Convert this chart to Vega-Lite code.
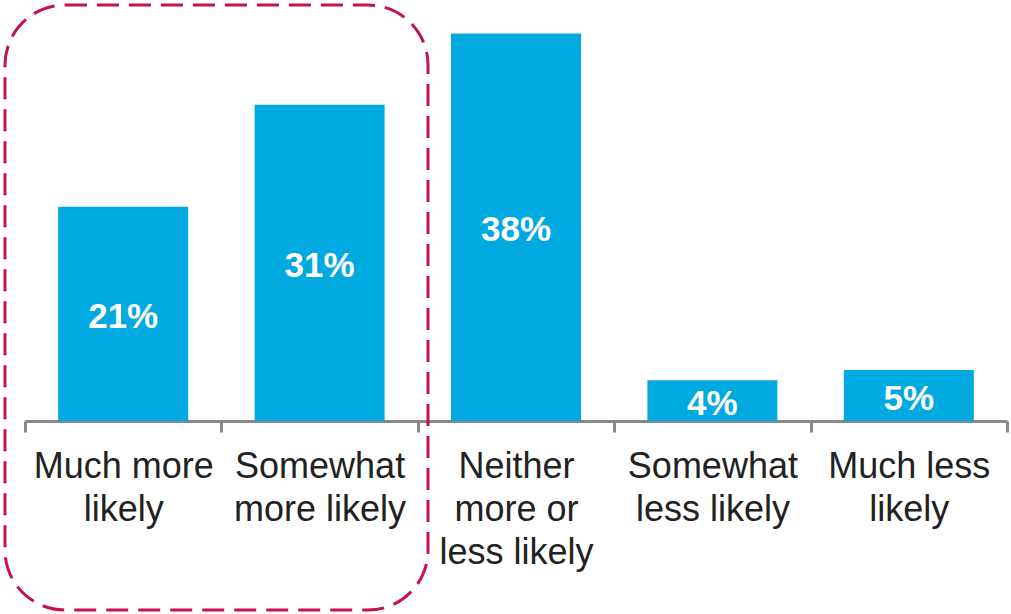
{
  "$schema": "https://vega.github.io/schema/vega-lite/v6.json",
  "autosize": "none",
  "width": 982,
  "height": 408,
  "padding": {"left": 25, "top": 13, "right": 4, "bottom": 193},
  "background": "white",
  "config": {"view": {"stroke": null}, "font": "Liberation Sans"},
  "layer": [
    {
      "data": {"values": [
        {"category": "Much more likely", "pct": 21, "label": "21%"},
        {"category": "Somewhat more likely", "pct": 31, "label": "31%"},
        {"category": "Neither more or less likely", "pct": 38, "label": "38%"},
        {"category": "Somewhat less likely", "pct": 4, "label": "4%"},
        {"category": "Much less likely", "pct": 5, "label": "5%"}
      ]},
      "encoding": {
        "x": {
          "field": "category", "type": "nominal", "sort": null,
          "scale": {"paddingInner": 0, "paddingOuter": 0},
          "axis": {
            "title": null, "labelAngle": 0, "tickBand": "extent",
            "domainColor": "#888888", "domainWidth": 3,
            "tickColor": "#888888", "tickWidth": 3, "tickSize": 11,
            "labelFont": "Liberation Sans", "labelFontSize": 36, "labelColor": "#222222",
            "labelLineHeight": 43, "labelPadding": 17, "labelBaseline": "top",
            "labelLimit": 0, "labelOverlap": false,
            "labelExpr": "datum.label == 'Much more likely' ? ['Much more', 'likely'] : datum.label == 'Somewhat more likely' ? ['Somewhat', 'more likely'] : datum.label == 'Neither more or less likely' ? ['Neither', 'more or', 'less likely'] : datum.label == 'Somewhat less likely' ? ['Somewhat', 'less likely'] : datum.label == 'Much less likely' ? ['Much less', 'likely'] : ''"
          }
        },
        "y": {
          "field": "pct", "type": "quantitative",
          "scale": {"domain": [0, 40], "nice": false},
          "axis": null
        }
      },
      "layer": [
        {"mark": {"type": "bar", "color": "#00A9DF", "width": {"band": 0.662}}},
        {
          "mark": {"type": "text", "color": "white", "fontSize": 35, "fontWeight": "bold", "font": "Liberation Sans", "baseline": "middle", "dy": 3},
          "encoding": {
            "y": {"field": "mid", "type": "quantitative"},
            "text": {"field": "label", "type": "nominal"}
          },
          "transform": [{"calculate": "datum.pct / 2", "as": "mid"}]
        }
      ]
    },
    {
      "data": {"values": [{"x0": -0.102, "x1": 2.052, "y0": 40.78, "y1": -18.53}]},
      "mark": {"type": "rect", "filled": false, "stroke": "#C41449", "strokeWidth": 3, "strokeDash": [22, 10], "cornerRadius": 60, "clip": false},
      "encoding": {
        "x": {"field": "x0", "type": "quantitative", "scale": {"domain": [0, 5], "nice": false, "zero": false}, "axis": null},
        "x2": {"field": "x1"},
        "y": {"field": "y0", "type": "quantitative"},
        "y2": {"field": "y1"}
      }
    }
  ],
  "resolve": {"scale": {"x": "independent"}}
}
